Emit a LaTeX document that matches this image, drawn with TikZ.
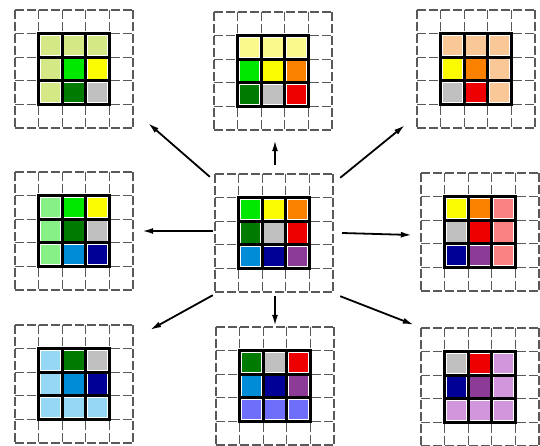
\documentclass[tikz,border=0pt]{standalone}
\usepackage{tikz}
\usetikzlibrary{positioning,arrows.meta}
\tikzset{>=Latex}
\definecolor{lime}{RGB}{0,232,0}
\definecolor{yel}{RGB}{250,250,0}
\definecolor{orng}{RGB}{250,128,0}
\definecolor{dkgreen}{RGB}{0,122,0}
\definecolor{gry}{RGB}{192,192,192}
\definecolor{rd}{RGB}{238,0,0}
\definecolor{blu}{RGB}{0,140,215}
\definecolor{nvy}{RGB}{0,0,150}
\definecolor{purp}{RGB}{140,60,150}
\definecolor{ygreen}{RGB}{212,232,134}
\definecolor{pyellow}{RGB}{250,250,140}
\definecolor{peach}{RGB}{250,200,150}
\definecolor{lgreen}{RGB}{135,240,135}
\definecolor{pink}{RGB}{250,130,130}
\definecolor{lblue}{RGB}{150,215,245}
\definecolor{peri}{RGB}{110,110,250}
\definecolor{lilac}{RGB}{210,150,220}
\newcommand{\cs}{23.6}
% one tile: #1 x, #2 y (top left), #3 name, #4 the nine colours
\newcommand{\tile}[4]{%
  \foreach \k in {0,...,5} {
    \draw[gridline] (#1+\k*\cs,#2) -- ++(0,5*\cs);
    \draw[gridline] (#1,#2+\k*\cs) -- ++(5*\cs,0);
  }
  \foreach \col [count=\i from 0] in {#4} {
    \pgfmathtruncatemacro\r{\i/3}
    \pgfmathtruncatemacro\q{mod(\i,3)}
    \fill[\col] (#1+\cs+\q*\cs+2.2,#2+\cs+\r*\cs+2.2) rectangle ++(\cs-4.4,\cs-4.4);
  }
  \foreach \k in {1,...,4} {
    \draw[cellline] (#1+\k*\cs,#2+\cs) -- ++(0,3*\cs);
    \draw[cellline] (#1+\cs,#2+\k*\cs) -- ++(3*\cs,0);
  }
  \node[tilebox] (#3) at (#1+2.5*\cs,#2+2.5*\cs) {};
}
\tikzset{
  gridline/.style={gray!70!black, line width=1.1pt, dash pattern=on 9pt off 3pt},
  cellline/.style={black, line width=3pt, line cap=rect},
  tilebox/.style={draw=none, inner sep=0pt, minimum size=118pt},
  arr/.style={->, line width=1.8pt, >={Latex[length=11pt,width=6pt]}}
}

\begin{document}
\begin{tikzpicture}[x=1pt,y=-1pt]
  \fill[white] (0,0) rectangle (540,446);
  \useasboundingbox (0,0) rectangle (540,446);

  % top row
  \tile{15}{10}{tl}{ygreen,ygreen,ygreen,ygreen,lime,yel,ygreen,dkgreen,gry}
  \tile{214}{12}{tm}{pyellow,pyellow,pyellow,lime,yel,orng,dkgreen,gry,rd}
  \tile{417}{10}{tr}{peach,peach,peach,yel,orng,peach,gry,rd,peach}
  % middle row
  \tile{15}{172}{ml}{lgreen,lime,yel,lgreen,dkgreen,gry,lgreen,blu,nvy}
  \tile{215}{174}{c}{lime,yel,orng,dkgreen,gry,rd,blu,nvy,purp}
  \tile{421}{173}{mr}{yel,orng,pink,gry,rd,pink,nvy,purp,pink}
  % bottom row
  \tile{15}{325}{bl}{lblue,dkgreen,gry,lblue,blu,nvy,lblue,lblue,lblue}
  \tile{216}{327}{bm}{dkgreen,gry,rd,blu,nvy,purp,peri,peri,peri}
  \tile{421}{328}{br}{gry,rd,lilac,nvy,purp,lilac,lilac,lilac,lilac}

  % arrows out of the centre tile
  \draw[arr] ([shift={(-5,3)}]c.north west) -- ([shift={(15,-5)}]tl.south east);
  \draw[arr] ([shift={(1,-9)}]c.north) -- ([shift={(2,10)}]tm.south);
  \draw[arr] ([shift={(7,4)}]c.north east) -- ([shift={(-12,-3)}]tr.south west);
  \draw[arr] ([shift={(-2,-2)}]c.west) -- ([shift={(9,0)}]ml.east);
  \draw[arr] ([shift={(9,0)}]c.east) -- ([shift={(-9,3)}]mr.west);
  \draw[arr] ([shift={(-2,3)}]c.south west) -- ([shift={(17,5)}]bl.north east);
  \draw[arr] ([shift={(1,4)}]c.south) -- ([shift={(0,-1)}]bm.north);
  \draw[arr] ([shift={(7,4)}]c.south east) -- ([shift={(-7,-3)}]br.north west);
\end{tikzpicture}
\end{document}
